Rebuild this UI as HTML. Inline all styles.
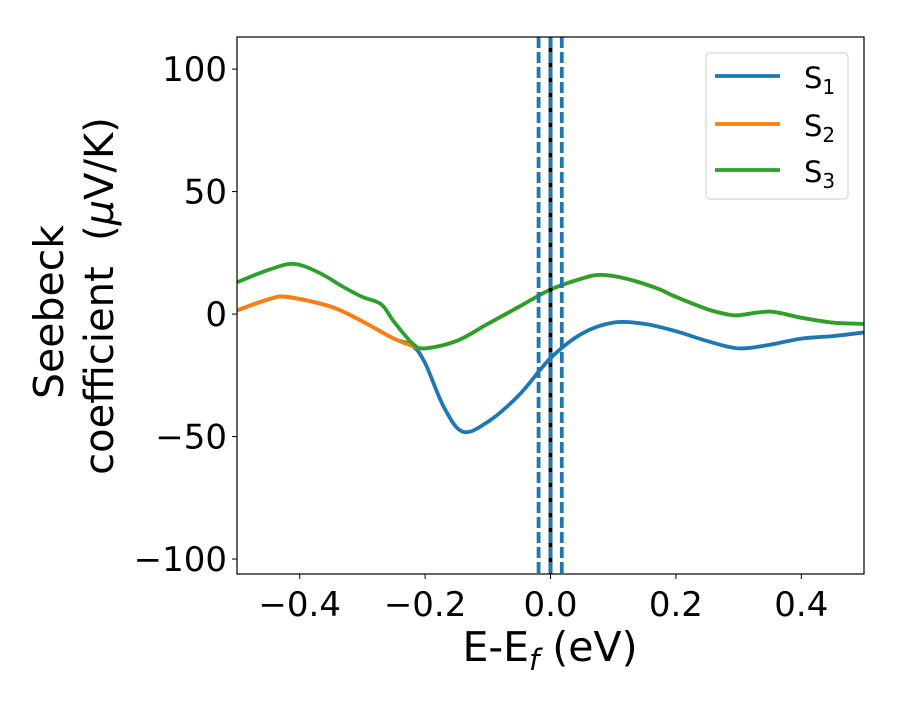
<!DOCTYPE html>
<html><head><meta charset="utf-8"><style>
body{margin:0;background:#fff;position:relative}
svg text{font-family:"DejaVu Sans","Liberation Sans",sans-serif;fill:#000}
</style></head><body>
<svg id="chart" width="900" height="700">
<g id="plot"></g>
</svg>
<script>
const xs1 = [-0.5,-0.45,-0.42,-0.35,-0.3,-0.25,-0.22,-0.2,-0.17,-0.14,-0.1,-0.05,0,0.05,0.1,0.15,0.2,0.25,0.3,0.35,0.4,0.45,0.5];
const s1 = [1.5,6,7,3,-3,-10,-13,-20,-38,-48,-44,-33,-18,-8,-3.5,-4,-7,-11,-14,-12.5,-10,-9,-7.5];
const xs3 = [-0.5,-0.45,-0.41,-0.37,-0.33,-0.3,-0.27,-0.25,-0.22,-0.2,-0.15,-0.1,-0.05,0,0.05,0.08,0.12,0.17,0.2,0.25,0.28,0.3,0.35,0.4,0.45,0.5];
const s3 = [13,18,20.5,17,11,7,4,-3,-12,-14,-11,-4,3,10,14.5,16,14.5,10.5,7,2,0,-0.5,1,-1.5,-3.5,-4];
const xs2 = [-0.5,-0.45,-0.42,-0.35,-0.3,-0.25,-0.22,-0.2,-0.15,-0.1,-0.05,0,0.05,0.08,0.12,0.17,0.2,0.25,0.28,0.3,0.35,0.4,0.45,0.5];
const s2 = [1.5,6,7,3,-3,-10,-13,-14,-11,-4,3,10,14.5,16,14.5,10.5,7,2,0,-0.5,1,-1.5,-3.5,-4];
const xTicks = [-0.4,-0.2,0.0,0.2,0.4];
const xTickLabels = ["\u22120.4","\u22120.2","0.0","0.2","0.4"];
const yTicks = [-100,-50,0,50,100];
const yTickLabels = ["\u2212100","\u221250","0","50","100"];
const vDashed = [-0.019,0,0.018];
const vSolid = [0];

const L=237,R=864,T=37,B=574, xmin=-0.5,xmax=0.5, ymin=-106.1,ymax=113.1;
const X=v=>L+(v-xmin)/(xmax-xmin)*(R-L);
const Y=v=>B-(v-ymin)/(ymax-ymin)*(B-T);
const NS="http://www.w3.org/2000/svg";
const g=document.getElementById('plot');
function mk(tag,attrs,parent){const e=document.createElementNS(NS,tag);for(const k in attrs)e.setAttribute(k,attrs[k]);(parent||g).appendChild(e);return e;}
function pathFor(xs,ys){
  const p=xs.map((x,i)=>[X(x),Y(ys[i])]);
  let d=`M${p[0][0]},${p[0][1]}`;
  for(let i=0;i<p.length-1;i++){
    const p0=p[i-1]||p[i],p1=p[i],p2=p[i+1],p3=p[i+2]||p2;
    const c1=[p1[0]+(p2[0]-p0[0])/6,p1[1]+(p2[1]-p0[1])/6];
    const c2=[p2[0]-(p3[0]-p1[0])/6,p2[1]-(p3[1]-p1[1])/6];
    d+=`C${c1[0]},${c1[1]} ${c2[0]},${c2[1]} ${p2[0]},${p2[1]}`;
  }
  return d;
}
const cp=mk('clipPath',{id:'clip'});
mk('rect',{x:L,y:T,width:R-L,height:B-T},cp);
const series=[[xs1,s1,'#1f77b4','series-s1'],[xs2,s2,'#ff7f0e','series-s2'],[xs3,s3,'#2ca02c','series-s3']];
series.forEach(s=>{
  const e=mk('path',{d:pathFor(s[0],s[1]),fill:'none',stroke:s[2],'stroke-width':3.8,'clip-path':'url(#clip)'});
  
  
});
vSolid.forEach(v=>{
  const e=mk('line',{x1:X(v),x2:X(v),y1:T,y2:B,stroke:'#000','stroke-width':3.8});
  
  
});
vDashed.forEach(v=>{
  const e=mk('line',{x1:X(v),x2:X(v),y1:T,y2:B,stroke:'#1f77b4','stroke-width':3.8,'stroke-dasharray':'11 4'});
  
  
});
const fr=mk('rect',{x:L,y:T,width:R-L,height:B-T,fill:'none',stroke:'#000','stroke-width':1.2});


xTicks.forEach((v,i)=>{
  mk('line',{x1:X(v),x2:X(v),y1:B,y2:B+5,stroke:'#000','stroke-width':1});
  const t=mk('text',{x:X(v),y:B+42,'text-anchor':'middle','font-size':34});
  t.textContent=xTickLabels[i];
  
  
});
yTicks.forEach((v,i)=>{
  mk('line',{x1:L-5,x2:L,y1:Y(v),y2:Y(v),stroke:'#000','stroke-width':1});
  const t=mk('text',{x:L-10,y:Y(v)+12,'text-anchor':'end','font-size':34});
  t.textContent=yTickLabels[i];
  
  
});
</script>
<svg width="900" height="700" style="position:absolute;left:0;top:0">
<text x="550" y="661" text-anchor="middle" font-size="41">E-E<tspan font-style="italic" font-size="29" dy="9">f</tspan><tspan dy="-9"> (eV)</tspan></text>
<g transform="translate(63,312) rotate(-90)">
<text x="0" y="0" text-anchor="middle" font-size="41">Seebeck</text>
<text x="16" y="50" text-anchor="middle" font-size="40" xml:space="preserve">coefficient  (<tspan font-style="italic">μ</tspan>V/K)</text>
</g>
<g>
<rect x="706" y="53" width="142" height="146" rx="4" fill="#fff" stroke="#ccc" stroke-width="1"/>
<line x1="715" y1="76" x2="780" y2="76" stroke="#1f77b4" stroke-width="3.8"/>
<text x="804" y="88" font-size="29">S<tspan font-size="20" dy="6">1</tspan></text>
<line x1="715" y1="124" x2="780" y2="124" stroke="#ff7f0e" stroke-width="3.8"/>
<text x="804" y="136" font-size="29">S<tspan font-size="20" dy="6">2</tspan></text>
<line x1="715" y1="170" x2="780" y2="170" stroke="#2ca02c" stroke-width="3.8"/>
<text x="804" y="182" font-size="29">S<tspan font-size="20" dy="6">3</tspan></text>
</g>
</svg>
</body></html>
